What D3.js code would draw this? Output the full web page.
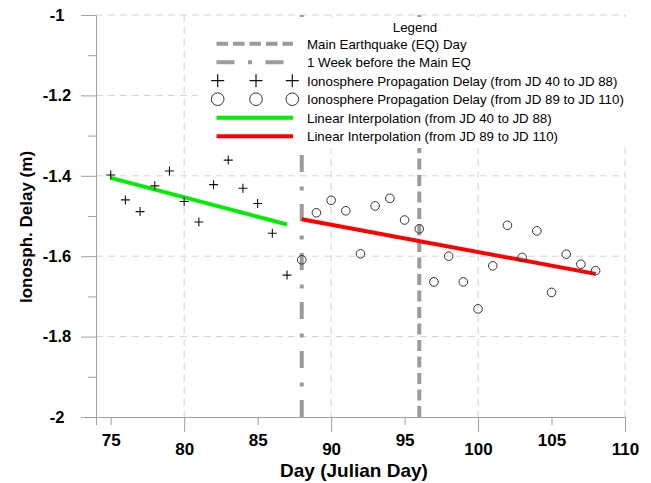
<!DOCTYPE html>
<html>
<head>
<meta charset="utf-8">
<script src="https://cdn.jsdelivr.net/npm/d3@7"></script>
<style>
  html, body { margin: 0; padding: 0; background: #fff; }
  svg { display: block; font-family: "Liberation Sans", Arial, sans-serif; }
</style>
</head>
<body>
<svg id="chart" width="651" height="483"></svg>
<script>
// ---- data ----
const crossDays = [75, 76, 77, 78, 79, 80, 81, 82, 83, 84, 85, 86, 87];
const crossValues = [-1.398, -1.460, -1.489, -1.425, -1.388, -1.464, -1.515, -1.422, -1.361, -1.431, -1.469, -1.543, -1.647];
const circleDays = [88, 89, 90, 91, 92, 93, 94, 95, 96, 97, 98, 99, 100, 101, 102, 103, 104, 105, 106, 107, 108];
const circleValues = [-1.609, -1.492, -1.461, -1.487, -1.594, -1.475, -1.456, -1.510, -1.532, -1.664, -1.600, -1.664, -1.731, -1.624, -1.523, -1.603, -1.537, -1.690, -1.595, -1.620, -1.636];
const greenFitDays = [75, 87];
const greenFitValues = [-1.405, -1.521];
const redFitDays = [88, 108];
const redFitValues = [-1.508, -1.644];
const mainEQDay = 96;
const weekBeforeDay = 88;
const xTicks = [75, 80, 85, 90, 95, 100, 105, 110];
const yTicks = [-1, -1.2, -1.4, -1.6, -1.8, -2];
const yTickLabels = ["-1", "-1.2", "-1.4", "-1.6", "-1.8", "-2"];
const yMinorTicks = [-1.1, -1.3, -1.5, -1.7, -1.9];
const legendLabels = [
  "Main Earthquake (EQ) Day",
  "1 Week before the Main EQ",
  "Ionosphere Propagation Delay (from JD 40 to JD 88)",
  "Ionosphere Propagation Delay (from JD 89 to JD 110)",
  "Linear Interpolation (from JD 40 to JD 88)",
  "Linear Interpolation (from JD 89 to JD 110)"
];

// ---- layout ----
const svg = d3.select("#chart");
const x = d3.scaleLinear().domain([74, 110]).range([96, 625]);
const y = d3.scaleLinear().domain([-2, -1]).range([417, 15]);
const axisGray = "#a0a0a0";
const gridGray = "#d4d4d4";
const eqGray = "#9b9b9b";

// grid
const grid = svg.append("g");
grid.selectAll("line.h").data(yTicks.filter(v => v > -2)).join("line")
  .attr("x1", x(74)).attr("x2", x(110))
  .attr("y1", d => y(d)).attr("y2", d => y(d))
  .attr("stroke", gridGray).attr("stroke-width", 1).attr("stroke-dasharray", "7,5");
grid.selectAll("line.v").data(xTicks.filter(v => v % 10 === 0)).join("line")
  .attr("x1", d => x(d)).attr("x2", d => x(d))
  .attr("y1", y(-1)).attr("y2", y(-2))
  .attr("stroke", gridGray).attr("stroke-width", 1).attr("stroke-dasharray", "7,5");

// axes
const yAxis = d3.axisLeft(y).tickValues(yTicks).tickSize(15)
  .tickFormat((d, i) => yTickLabels[i]);
const gy = svg.append("g").attr("transform", `translate(${x(74)},0)`).call(yAxis);
gy.select(".domain").attr("stroke", axisGray);
gy.selectAll(".tick line").attr("stroke", axisGray);
gy.selectAll(".tick text").attr("x", -39).attr("text-anchor", "middle")
  .attr("font-size", 16.5).attr("font-weight", "bold").attr("fill", "#000")
  .attr("font-family", "Liberation Sans, Arial, sans-serif");
const gyMinor = svg.append("g").attr("transform", `translate(${x(74)},0)`)
  .call(d3.axisLeft(y).tickValues(yMinorTicks).tickSize(8).tickFormat(""));
gyMinor.select(".domain").remove();
gyMinor.selectAll(".tick line").attr("stroke", axisGray);

const xAxis = d3.axisBottom(x).tickValues(xTicks).tickSizeOuter(0)
  .tickSize(8).tickFormat(d3.format("d"));
const gx = svg.append("g").attr("transform", `translate(0,${y(-2)})`).call(xAxis);
gx.select(".domain").attr("stroke", axisGray);
gx.selectAll(".tick line").attr("stroke", axisGray)
  .attr("y2", d => d % 10 === 0 ? 15 : 8);
gx.selectAll(".tick text")
  .attr("y", d => d % 10 === 0 ? 25.5 : 17)
  .attr("dy", "0.71em")
  .attr("font-size", 17).attr("font-weight", "bold").attr("fill", "#000")
  .attr("font-family", "Liberation Sans, Arial, sans-serif");

// axis titles
svg.append("text").attr("x", 354).attr("y", 477).attr("text-anchor", "middle")
  .attr("font-size", 19).attr("font-weight", "bold").text("Day (Julian Day)");
svg.append("text").attr("transform", "translate(32,227) rotate(-90)")
  .attr("text-anchor", "middle").attr("font-size", 17).attr("font-weight", "bold")
  .text("Ionosph. Delay (m)");

// vertical event lines
svg.append("line").attr("x1", x(weekBeforeDay)).attr("x2", x(weekBeforeDay))
  .attr("y1", y(-2)).attr("y2", y(-1))
  .attr("stroke", eqGray).attr("stroke-width", 4).attr("stroke-dasharray", "17,13.5,4,14.5");
svg.append("line").attr("x1", x(mainEQDay)).attr("x2", x(mainEQDay))
  .attr("y1", y(-2)).attr("y2", y(-1))
  .attr("stroke", eqGray).attr("stroke-width", 4).attr("stroke-dasharray", "11,5.5");

// fit lines
const line = d3.line().x(d => x(d[0])).y(d => y(d[1]));
svg.append("path").datum(d3.zip(greenFitDays, greenFitValues)).attr("d", line)
  .attr("fill", "none").attr("stroke", "#00ee00").attr("stroke-width", 4);
svg.append("path").datum(d3.zip(redFitDays, redFitValues)).attr("d", line)
  .attr("fill", "none").attr("stroke", "#ff0000").attr("stroke-width", 4);

// markers
const cs = 4.5;
svg.append("g").selectAll("path").data(d3.zip(crossDays, crossValues)).join("path")
  .attr("d", d => `M${x(d[0]) - cs},${y(d[1])}H${x(d[0]) + cs}M${x(d[0])},${y(d[1]) - cs}V${y(d[1]) + cs}`)
  .attr("stroke", "#111").attr("stroke-width", 1.1).attr("fill", "none");
svg.append("g").selectAll("circle").data(d3.zip(circleDays, circleValues)).join("circle")
  .attr("cx", d => x(d[0])).attr("cy", d => y(d[1])).attr("r", 4.3)
  .attr("stroke", "#333").attr("stroke-width", 1).attr("fill", "none");

// legend
const lg = svg.append("g");
lg.append("rect").attr("x", 198).attr("y", 17).attr("width", 442).attr("height", 131).attr("fill", "#fff");
lg.append("text").attr("x", 415).attr("y", 32).attr("text-anchor", "middle")
  .attr("font-size", 13.3).text("Legend");
const rowY = i => 43.7 + i * 18.5;
const lx1 = 216.5, lx2 = 293;
lg.append("line").attr("x1", lx1).attr("x2", lx2).attr("y1", rowY(0)).attr("y2", rowY(0))
  .attr("stroke", eqGray).attr("stroke-width", 4).attr("stroke-dasharray", "11.5,5");
lg.append("line").attr("x1", lx1).attr("x2", lx2).attr("y1", rowY(1)).attr("y2", rowY(1))
  .attr("stroke", eqGray).attr("stroke-width", 4).attr("stroke-dasharray", "18,13.5,4,13.5");
const symX = [217.7, 256, 292.3];
lg.selectAll("path.cr").data(symX).join("path")
  .attr("d", d => `M${d - 6.5},${rowY(2)}H${d + 6.5}M${d},${rowY(2) - 6.5}V${rowY(2) + 6.5}`)
  .attr("stroke", "#111").attr("stroke-width", 1.2);
lg.selectAll("circle").data(symX).join("circle")
  .attr("cx", d => d).attr("cy", rowY(3)).attr("r", 6.3)
  .attr("stroke", "#333").attr("stroke-width", 1).attr("fill", "none");
lg.append("line").attr("x1", lx1).attr("x2", lx2).attr("y1", rowY(4)).attr("y2", rowY(4))
  .attr("stroke", "#00ee00").attr("stroke-width", 4);
lg.append("line").attr("x1", lx1).attr("x2", lx2).attr("y1", rowY(5)).attr("y2", rowY(5))
  .attr("stroke", "#ff0000").attr("stroke-width", 4);
lg.selectAll("text.lab").data(legendLabels).join("text").attr("class", "lab")
  .attr("x", 307).attr("y", (d, i) => rowY(i) + 4.8)
  .attr("font-size", 13.3).text(d => d);
</script>
</body>
</html>
